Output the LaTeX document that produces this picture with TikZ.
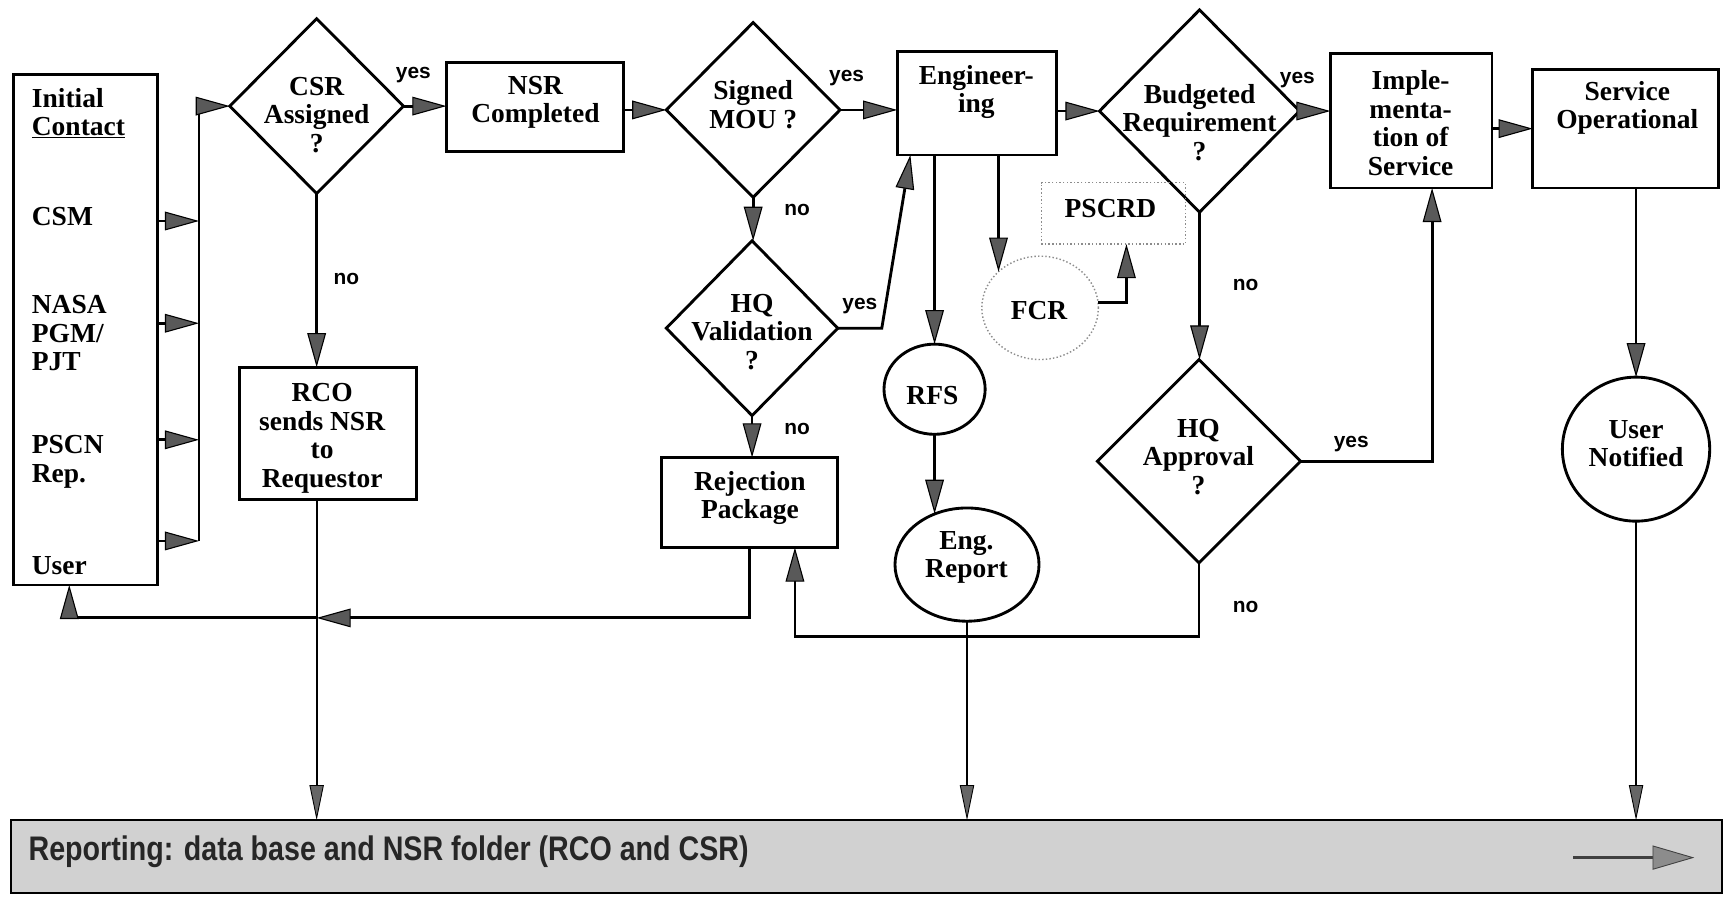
\documentclass[tikz,border=0pt]{standalone}
\usepackage{fontspec}
\setmainfont{Liberation Serif}
\newfontfamily\sansb{Liberation Sans}
\newfontfamily\repfont{Liberation Sans}[FakeStretch=0.84]
\usetikzlibrary{shapes.geometric,arrows.meta,calc}
\begin{document}
\begin{tikzpicture}[x=1pt,y=-1pt,
  every node/.style={outer sep=0pt,inner sep=0pt},
  bx/.style={draw,line width=2.6pt,rectangle},
  dia/.style={draw,line width=2.6pt,diamond},
  ell/.style={draw,line width=2.6pt,ellipse},
  dotbox/.style={draw=black!45,line width=1.3pt,dotted},
  txt/.style={font=\fontsize{25}{26}\selectfont\bfseries,align=center},
  ltxt/.style={font=\fontsize{25}{26}\selectfont\bfseries,align=left,anchor=west},
  yn/.style={font=\sansb\fontsize{19}{20}\selectfont\bfseries},
  con/.style={line width=2.6pt},
  arr/.style={line width=2.6pt,-{Triangle[length=31pt,width=17pt,fill=black!65,line width=1pt]}},
  arrthin/.style={line width=1.8pt,-{Triangle[length=32pt,width=13pt,fill=black!60,line width=0.8pt]}},
]
\fill[white] (0,0) rectangle (1568,818);
\useasboundingbox (0,0) rectangle (1568,818);

% reporting bar
\node[draw,line width=2.2pt,fill=black!18,minimum width=1556pt,minimum height=66pt] (Rep) at (788,779) {};
\node[anchor=west,font=\repfont\fontsize{31}{32}\selectfont\bfseries,text=black!85] (Rept) at (26,775) {Reporting: data base and NSR folder (RCO and CSR)};
\coordinate (ra) at (1431,780);
\coordinate (rb) at (1541,780);
\draw[line width=2.8pt,black!75,-{Triangle[length=38pt,width=22pt,fill=black!45,line width=0.8pt]}] (ra) -- (rb);

% initial contact
\node[bx,minimum width=131pt,minimum height=464pt] (Init) at (77.5,300) {};
\node[ltxt] (t1) at (29,103) {Initial\\\underline{Contact}};
\node[ltxt] (t2) at (29,197) {CSM};
\node[ltxt] (t3) at (29,303) {NASA\\PGM/\\PJT};
\node[ltxt] (t4) at (29,420) {PSCN\\Rep.};
\node[ltxt] (t5) at (29,514) {User};

% main nodes
\node[dia,minimum width=158pt,minimum height=159pt] (CSR) at (288,96.5) {};
\node[txt] (CSRt) at (288,104.5) {CSR\\Assigned\\?};
\node[bx,minimum width=161pt,minimum height=81pt] (NSR) at (486.5,97.5) {};
\node[txt] (NSRt) at (487,93) {NSR\\Completed};
\node[dia,minimum width=158pt,minimum height=159pt] (MOU) at (685,100) {};
\node[txt] (MOUt) at (685,95) {Signed\\MOU ?};
\node[bx,minimum width=145pt,minimum height=94pt] (Eng) at (888.5,94) {};
\node[txt] (Engt) at (888,83.5) {Engineer-\\ing};
\node[dia,minimum width=182pt,minimum height=184pt] (Bud) at (1091,101) {};
\node[txt] (Budt) at (1091,111.5) {Budgeted\\Requirement\\?};
\node[bx,minimum width=147pt,minimum height=122pt] (Impl) at (1283.5,110) {};
\node[txt] (Implt) at (1283,112) {Imple-\\menta-\\tion of\\Service};
\node[bx,minimum width=169pt,minimum height=108pt] (SO) at (1478.5,117) {};
\node[txt] (SOt) at (1480,98) {Service\\Operational};
\node[dia,minimum width=156pt,minimum height=159pt] (HQV) at (684,298.5) {};
\node[txt] (HQVt) at (684,302) {HQ\\Validation\\?};
\node[bx,minimum width=160pt,minimum height=82pt] (Rej) at (682,457) {};
\node[txt] (Rejt) at (682,453) {Rejection\\Package};
\node[bx,minimum width=161pt,minimum height=120pt] (RCO) at (298.5,394) {};
\node[txt] (RCOt) at (293,398.5) {RCO\\sends NSR\\to\\Requestor};
\node[ell,minimum width=92pt,minimum height=82pt] (RFS) at (850,354) {};
\node[txt] (RFSt) at (848,360) {RFS};
\node[ell,minimum width=131pt,minimum height=103pt] (EngRep) at (879.5,513.5) {};
\node[txt] (EngRept) at (879,507) {Eng.\\Report};
\node[dotbox,ellipse,minimum width=106pt,minimum height=94pt] (FCR) at (946,280) {};
\node[txt] (FCRt) at (945,282) {FCR};
\node[dotbox,minimum width=131pt,minimum height=56pt] (PSCRD) at (1012.5,194) {};
\node[txt] (PSCRDt) at (1010,190) {PSCRD};
\node[dia,minimum width=185pt,minimum height=185pt] (HQA) at (1090.5,419.5) {};
\node[txt] (HQAt) at (1090,415.5) {HQ\\Approval\\?};
\node[ell,minimum width=134pt,minimum height=131pt] (UN) at (1488,408.5) {};
\node[txt] (UNt) at (1488,403.5) {User\\Notified};

% bus
\coordinate (bt) at (181,96.5);
\coordinate (bb) at (181,492);
\coordinate (b1) at (181,201);
\coordinate (b2) at (181,294);
\coordinate (b3) at (181,400);
\draw[con] (bb) -- (bt);
\draw[arr] (bt) -- (CSR.west);
\foreach \b in {b1,b2,b3,bb} \draw[arr] (Init.east |- \b) -- (\b);

% top row
\draw[arr] (CSR.east) -- (CSR.east -| NSR.west);
\node[yn] (y1) at (376,68) {yes};
\draw[arr] (MOU.west -| NSR.east) -- (MOU.west);
\draw[arr] (MOU.east) -- (MOU.east -| Eng.west);
\node[yn] (y2) at (770,71) {yes};
\draw[arr] (Eng.east |- Bud.west) -- (Bud.west);
\draw[arr] (Bud.east) -- (Bud.east -| Impl.west);
\node[yn] (y3) at (1180,73) {yes};
\draw[arr] (Impl.east |- SO.west) -- (SO.west);

% verticals
\draw[arr] (CSR.south) -- (CSR.south |- RCO.north);
\node[yn] (n1) at (315,254) {no};
\draw[arr] (MOU.south) -- (MOU.south |- HQV.north);
\node[yn] (n2) at (725,191) {no};
\draw[arr] (HQV.south) -- (HQV.south |- Rej.north);
\node[yn] (n3) at (725,390) {no};
\coordinate (hv) at (802,298.5);
\draw[arr] (HQV.east) -- (hv) -- ([xshift=12pt]Eng.south west);
\node[yn] (y4) at (782,278) {yes};
\draw[arr] (Eng.south -| RFS.north) -- (RFS.north);
\draw[arr] (RFS.south) -- (RFS.south |- EngRep.122);
\draw[arr] (Eng.south -| FCR.139) -- (FCR.139);
\draw[arr] ([yshift=5pt]FCR.east) -| ([xshift=12pt]PSCRD.south);
\draw[arr] (Bud.south) -- (Bud.south |- HQA.north);
\node[yn] (n4) at (1133,259) {no};
\draw[arr] (HQA.east) -| ([xshift=19pt]Impl.south);
\node[yn] (y5) at (1229,404) {yes};
\coordinate (ha) at (1090.5,579);
\draw[arr] (HQA.south) -- (ha) -| ([xshift=41pt]Rej.south);
\node[yn] (n5) at (1133,552) {no};
\coordinate (j1) at (288,562);
\draw[arr] (Rej.south) |- (j1);
\draw[arr] (j1) -| ([xshift=-14.5pt]Init.south);
\draw[arr] (SO.south -| UN.north) -- (UN.north);

% to reporting
\draw[arrthin] (RCO.south -| CSR.south) -- (CSR.south |- Rep.north);
\draw[arrthin] (EngRep.south) -- (EngRep.south |- Rep.north);
\draw[arrthin] (UN.south) -- (UN.south |- Rep.north);
\end{tikzpicture}
\end{document}
